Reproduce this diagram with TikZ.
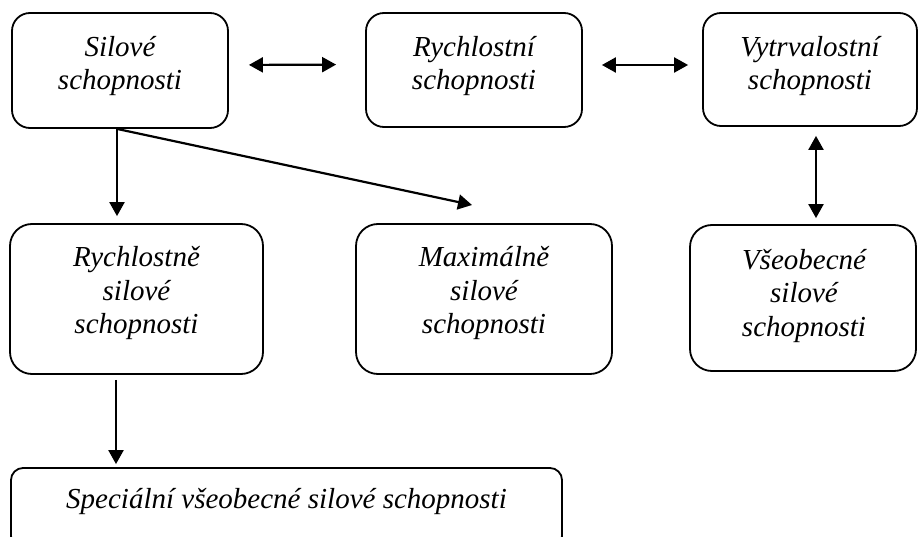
\documentclass[tikz,border=0pt]{standalone}
\usepackage{fontspec}
\setmainfont{Liberation Serif}
\usetikzlibrary{arrows.meta}
\begin{document}
\begin{tikzpicture}[x=1pt,y=-1pt,
  box/.style={draw=black, line width=1.8pt, fill=none},
  lbl/.style={align=center, inner sep=0pt, anchor=base, font=\fontsize{29}{33.5}\selectfont\itshape},
  arr/.style={line width=2.2pt, -{Triangle[length=14pt,width=15pt]}},
  dbl/.style={line width=2.2pt, {Triangle[length=14pt,width=15pt]}-{Triangle[length=14pt,width=15pt]}}]
\useasboundingbox (0,0) rectangle (918,537);
\clip (0,0) rectangle (918,537);
% boxes
\node[box, rounded corners=18pt, minimum width=216pt, minimum height=115pt] (b1) at (120,70.5) {};
\node[box, rounded corners=18pt, minimum width=216pt, minimum height=114pt] (b2) at (474,70) {};
\node[box, rounded corners=18pt, minimum width=214pt, minimum height=113pt] (b3) at (810,69.5) {};
\node[box, rounded corners=22pt, minimum width=253pt, minimum height=150pt] (b4) at (136.5,299) {};
\node[box, rounded corners=22pt, minimum width=256pt, minimum height=150pt] (b5) at (484,299) {};
\node[box, rounded corners=22pt, minimum width=226pt, minimum height=146pt] (b6) at (803,298) {};
\node[box, rounded corners=12pt, minimum width=551pt, minimum height=80pt] (b7) at (286.5,508) {};
% labels (base anchor = baseline of the last line)
\node[lbl] (t1) at (120,90) {Silové\\schopnosti};
\node[lbl] (t2) at (474,90) {Rychlostní\\schopnosti};
\node[lbl] (t3) at (810,90) {Vytrvalostní\\schopnosti};
\node[lbl] (t4) at (136.5,334) {Rychlostně\\silové\\schopnosti};
\node[lbl] (t5) at (484,334) {Maximálně\\silové\\schopnosti};
\node[lbl] (t6) at (804,336) {Všeobecné\\silové\\schopnosti};
\node[lbl] (t7) at (286.5,508) {Speciální všeobecné silové schopnosti};
% connectors
\coordinate (src) at ([xshift=-3pt]b1.south);
\coordinate (dtip) at (472,205);
\draw[dbl, shorten <=20pt, shorten >=29pt] ([yshift=5.5pt]b1.east) -- ([yshift=5.5pt]b2.west);
\draw[dbl, shorten <=19pt, shorten >=14pt] ([yshift=5pt]b2.east) -- ([yshift=4.5pt]b3.west);
\draw[dbl, shorten <=9pt, shorten >=6pt] ([xshift=6pt]b3.south) -- ([xshift=13pt]b6.north);
\draw[arr, shorten >=7pt] (src) -- ([xshift=-19.5pt]b4.north);
\draw[arr] (src) -- (dtip);
\draw[arr, shorten <=5pt, shorten >=3pt] ([xshift=-20.5pt]b4.south) -- ([xshift=-170.5pt]b7.north);
\end{tikzpicture}
\end{document}
